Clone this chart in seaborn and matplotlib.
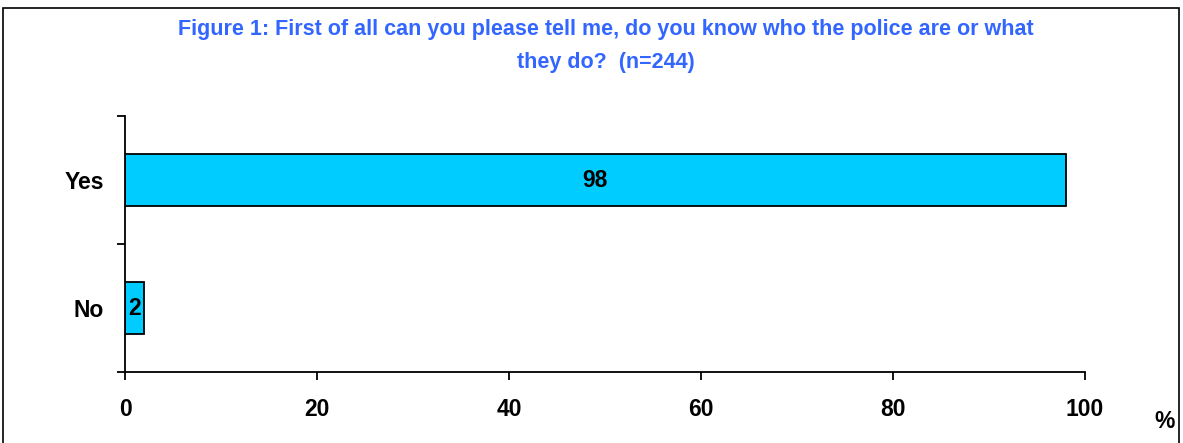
import matplotlib
matplotlib.use("Agg")
import matplotlib.pyplot as plt
from matplotlib.patches import Rectangle
import seaborn as sns
import pandas as pd

# Survey responses
categories = ["Yes", "No"]
percentages = [98, 2]
x_ticks = [0, 20, 40, 60, 80, 100]
title_text = ("Figure 1: First of all can you please tell me, do you know who the police are or what\n"
              "they do?  (n=244)")

sns.set_theme(style="white")
plt.rcParams["font.family"] = ["Liberation Sans", "DejaVu Sans"]
plt.rcParams["text.color"] = "black"

FONT = ["Liberation Sans", "DejaVu Sans"]
LABEL_SIZE = 16.5

df = pd.DataFrame({"category": categories, "pct": percentages})

fig = plt.figure(figsize=(11.83, 4.43), dpi=100)
ax = fig.add_axes([125 / 1183, 1 - 372 / 443, (1085 - 125) / 1183, (372 - 116) / 443])

sns.barplot(data=df, x="pct", y="category", orient="h", color="#00CCFF",
            saturation=1, edgecolor="black", linewidth=1.3, width=0.41, ax=ax)

ax.set_xlim(0, 100)
ax.set_ylim(1.5, -0.5)
ax.set_xticks(x_ticks)
ax.set_xticklabels([str(t) for t in x_ticks], fontsize=LABEL_SIZE, fontweight="bold",
                   family=FONT, color="black")
ax.set_yticks(range(len(categories)))
ax.set_yticklabels(categories, fontsize=LABEL_SIZE, fontweight="bold",
                   family=FONT, color="black")
ax.set_yticks([-0.5, 0.5, 1.5], minor=True)
ax.tick_params(axis="y", which="major", length=0, pad=15)
ax.tick_params(axis="y", which="minor", length=6, width=1.3, direction="out", color="black", left=True)
ax.tick_params(axis="x", which="major", length=6, width=1.3, direction="out", color="black",
               bottom=True, pad=13)
ax.set_xlabel("")
ax.set_ylabel("")
for side in ("top", "right"):
    ax.spines[side].set_visible(False)
for side in ("left", "bottom"):
    ax.spines[side].set_color("black")
    ax.spines[side].set_linewidth(1.3)

# Value labels centred in each bar
for container in ax.containers:
    ax.bar_label(container, labels=[str(v) for v in percentages], label_type="center",
                 fontsize=LABEL_SIZE, fontweight="bold", color="black", family=FONT)

fig.text(606 / 1183, 1 - 46 / 443, title_text, ha="center", va="center",
         fontsize=15.5, fontweight="bold", color="#3366FF", linespacing=1.75,
         family=FONT)

fig.text(1165 / 1183, 1 - 421 / 443, "%", ha="center", va="center",
         fontsize=LABEL_SIZE, fontweight="bold", color="black", family=FONT)

# Chart frame
fig.patches.append(Rectangle((3 / 1183, -0.05), (1179 - 3) / 1183, 1.05 - 8 / 443,
                             transform=fig.transFigure, fill=False,
                             edgecolor="black", linewidth=1.2))

fig.savefig("out.png", dpi=100)
